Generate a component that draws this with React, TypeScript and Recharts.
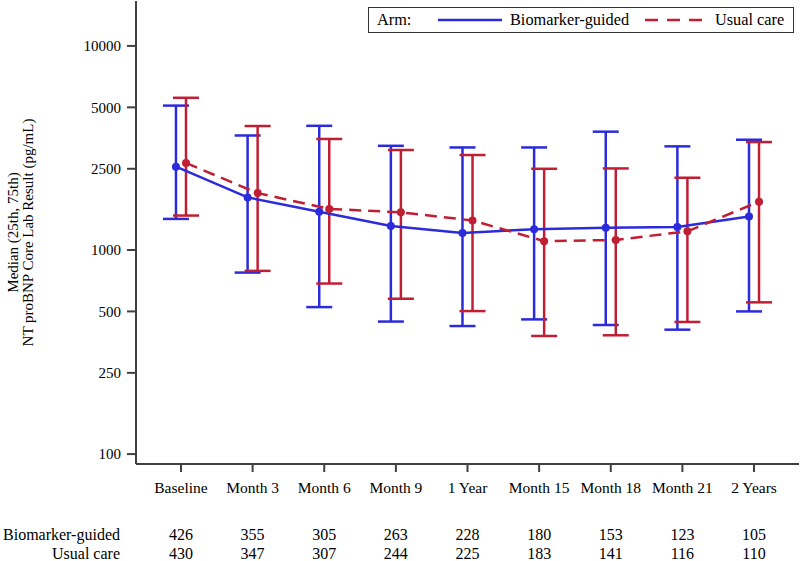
import React from "react";
import {
  ComposedChart,
  Scatter,
  ErrorBar,
  XAxis,
  YAxis,
  Legend,
} from "recharts";

// visits on the x axis
const categories = [
  "Baseline",
  "Month 3",
  "Month 6",
  "Month 9",
  "1 Year",
  "Month 15",
  "Month 18",
  "Month 21",
  "2 Years",
];

// NT proBNP medians and quartiles (pg/mL)
const bioMedian = [2560, 1810, 1540, 1310, 1210, 1265, 1285, 1295, 1460];
const bioQ1 = [1420, 775, 525, 446, 424, 457, 429, 407, 500];
const bioQ3 = [5100, 3640, 4060, 3240, 3180, 3180, 3800, 3220, 3470];

const usualMedian = [2670, 1900, 1590, 1530, 1395, 1105, 1120, 1235, 1725];
const usualQ1 = [1475, 790, 685, 577, 502, 379, 382, 444, 554];
const usualQ3 = [5570, 4050, 3500, 3090, 2920, 2500, 2510, 2260, 3380];

// numbers at risk under the axis
const bioN = [426, 355, 305, 263, 228, 180, 153, 123, 105];
const usualN = [430, 347, 307, 244, 225, 183, 141, 116, 110];

const yTicks = [100, 250, 500, 1000, 2500, 5000, 10000];
const xTicks = categories.map((_, i) => i);

const BLUE = "#2b2bdc";
const RED = "#c01f33";
const AXIS = "#404040";
const FONT = "'Liberation Serif', 'Times New Roman', serif";

// small side-by-side shift so the two arms don't overlap
const DODGE = 0.07;

const bioData = categories.map((_, i) => ({
  x: i - DODGE,
  y: bioMedian[i],
  err: [bioMedian[i] - bioQ1[i], bioQ3[i] - bioMedian[i]],
}));

const usualData = categories.map((_, i) => ({
  x: i + DODGE,
  y: usualMedian[i],
  err: [usualMedian[i] - usualQ1[i], usualQ3[i] - usualMedian[i]],
}));

function Dot(color: string) {
  return (props: any) => (
    <circle cx={props.cx} cy={props.cy} r={4} fill={color} stroke="none" />
  );
}

// category label plus the at-risk table column below it
function VisitTick(props: any) {
  const { x, y, payload } = props;
  const i = Math.round(payload.value);
  const common = { x, textAnchor: "middle" as const, fontFamily: FONT, fill: "#000" };
  return (
    <g>
      <text {...common} y={y + 21} fontSize={15.5}>
        {categories[i]}
      </text>
      <text {...common} y={y + 68} fontSize={16}>
        {bioN[i]}
      </text>
      <text {...common} y={y + 87} fontSize={16}>
        {usualN[i]}
      </text>
    </g>
  );
}

function TableLabels(props: any) {
  const vb = props.viewBox || {};
  const x = vb.x - 16;
  return (
    <g fontFamily={FONT} fontSize={16} fill="#000" textAnchor="end">
      <text x={x} y={vb.y + 76}>Biomarker-guided</text>
      <text x={x} y={vb.y + 95}>Usual care</text>
    </g>
  );
}

function YLabel(props: any) {
  const vb = props.viewBox || {};
  const cy = vb.y + vb.height / 2;
  return (
    <g transform={`translate(18, ${cy}) rotate(-90)`}>
      <text x={0} y={0} textAnchor="middle" fontSize={15} fontFamily={FONT} fill="#000">
        Median (25th, 75th)
      </text>
      <text x={0} y={15} textAnchor="middle" fontSize={15} fontFamily={FONT} fill="#000">
        NT proBNP Core Lab Result (pg/mL)
      </text>
    </g>
  );
}

function ArmLegend() {
  const txt: React.CSSProperties = {
    position: "absolute",
    top: 2,
    fontSize: 16.3,
    fontFamily: FONT,
    color: "#000",
    whiteSpace: "nowrap",
    lineHeight: "20px",
  };
  return (
    <div
      style={{
        position: "relative",
        width: 424,
        height: 24,
        border: "1px solid #333",
        background: "#fff",
      }}
    >
      <span style={{ ...txt, left: 8 }}>Arm:</span>
      <svg style={{ position: "absolute", left: 69, top: 0 }} width={64} height={24}>
        <line x1={0} y1={12} x2={64} y2={12} stroke={BLUE} strokeWidth={2.5} />
      </svg>
      <span style={{ ...txt, left: 141 }}>Biomarker-guided</span>
      <svg style={{ position: "absolute", left: 276, top: 0 }} width={58} height={24}>
        <line x1={0} y1={12} x2={58} y2={12} stroke={RED} strokeWidth={2.5} strokeDasharray="13 9" />
      </svg>
      <span style={{ ...txt, left: 346 }}>Usual care</span>
    </div>
  );
}

export default function App() {
  return (
    <div style={{ position: "absolute", left: 0, top: 0, background: "#fff" }}>
      <ComposedChart
        width={800}
        height={561}
        margin={{ top: 1, right: 1, left: 0, bottom: 0 }}
      >
        <XAxis
          dataKey="x"
          type="number"
          domain={[-0.628, 8.628]}
          allowDataOverflow
          ticks={xTicks}
          interval={0}
          height={97}
          tick={<VisitTick />}
          tickSize={8}
          tickMargin={0}
          stroke={AXIS}
          strokeWidth={2}
          label={{ content: <TableLabels /> }}
        />
        <XAxis
          xAxisId="top"
          orientation="top"
          type="number"
          domain={[-0.628, 8.628]}
          height={0}
          tick={false}
          tickLine={false}
          stroke={AXIS}
          strokeWidth={2}
        />
        <YAxis
          dataKey="y"
          type="number"
          scale="log"
          domain={[89.4, 16600]}
          allowDataOverflow
          ticks={yTicks}
          interval={0}
          width={136}
          tick={{ fill: "#000", fontSize: 15, fontFamily: FONT }}
          tickSize={9}
          tickMargin={6}
          stroke={AXIS}
          strokeWidth={2}
          label={{ content: <YLabel /> }}
        />
        <YAxis
          yAxisId="right"
          orientation="right"
          type="number"
          width={0}
          tick={false}
          tickLine={false}
          stroke={AXIS}
          strokeWidth={2}
        />
        <Legend
          layout="vertical"
          align="center"
          verticalAlign="middle"
          wrapperStyle={{ position: "absolute", left: 368, top: 7, width: 426 }}
          content={() => <ArmLegend />}
        />
        <Scatter
          name="Biomarker-guided"
          data={bioData}
          fill={BLUE}
          line={{ stroke: BLUE, strokeWidth: 2.5 }}
          shape={Dot(BLUE)}
          isAnimationActive={false}
        >
          <ErrorBar dataKey="err" direction="y" width={13} stroke={BLUE} strokeWidth={2.5} />
        </Scatter>
        <Scatter
          name="Usual care"
          data={usualData}
          fill={RED}
          line={{ stroke: RED, strokeWidth: 2.5, strokeDasharray: "12 7" }}
          shape={Dot(RED)}
          isAnimationActive={false}
        >
          <ErrorBar dataKey="err" direction="y" width={13} stroke={RED} strokeWidth={2.5} />
        </Scatter>
      </ComposedChart>
    </div>
  );
}
